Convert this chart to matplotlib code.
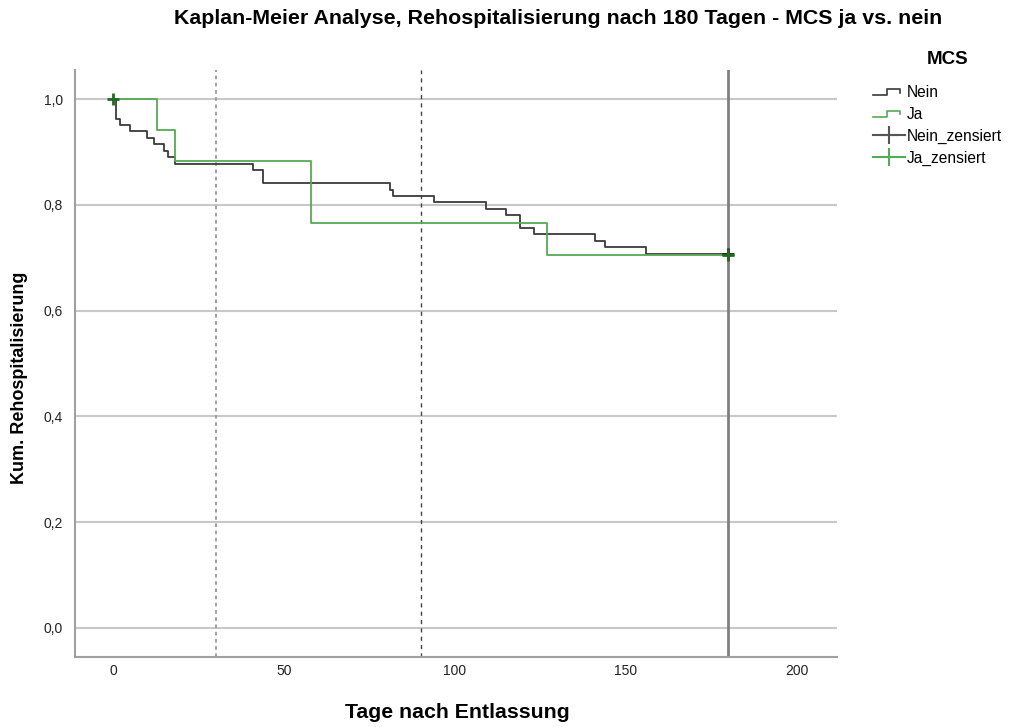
import matplotlib
matplotlib.use('Agg')
import matplotlib.pyplot as plt
from matplotlib import font_manager
from matplotlib.lines import Line2D
from matplotlib.legend_handler import HandlerBase

plt.rcParams['font.family'] = ['Liberation Sans', 'DejaVu Sans']
installed = {f.name for f in font_manager.fontManager.ttflist}
tick_font = 'Liberation Sans Narrow' if 'Liberation Sans Narrow' in installed else 'Liberation Sans'

# Kaplan-Meier step data
nein_t = [0, 1, 2, 5, 10, 12, 15, 16, 18, 41, 44, 81, 82, 94, 109, 115, 119, 123, 141, 144, 156, 180]
nein_s = [1.0, 0.963, 0.951, 0.939, 0.927, 0.915, 0.902, 0.890, 0.878, 0.866, 0.841, 0.829,
          0.817, 0.805, 0.793, 0.780, 0.756, 0.744, 0.732, 0.720, 0.707, 0.707]
ja_t = [0, 13, 18, 58, 127, 180]
ja_s = [1.0, 0.941, 0.882, 0.765, 0.706, 0.706]

nein_cens_t = [180]
nein_cens_s = [0.707]
ja_cens_t = [0, 180]
ja_cens_s = [1.0, 0.706]

ref_days = [30, 90, 180]
xticks = [0, 50, 100, 150, 200]
yticks = [0.0, 0.2, 0.4, 0.6, 0.8, 1.0]

c_nein = '#3a3a3a'
c_ja = '#55aa55'
c_cens = '#1f6b1f'


class HandlerStep(HandlerBase):
    def create_artists(self, legend, orig_handle, xdescent, ydescent, width, height, fontsize, trans):
        x0 = -xdescent
        y0 = -ydescent
        xs = [x0, x0 + 0.45 * width, x0 + 0.45 * width, x0 + 0.85 * width, x0 + 0.85 * width]
        ys = [y0 + 0.2 * height, y0 + 0.2 * height, y0 + 0.7 * height, y0 + 0.7 * height, y0 + 0.4 * height]
        ln = Line2D(xs, ys, color=orig_handle.get_color(), lw=1.2, transform=trans)
        return [ln]


fig = plt.figure(figsize=(10.18, 7.27), dpi=100)
ax = fig.add_axes([0.0737, 0.0963, 0.7483, 0.8074])

for y in yticks:
    ax.axhline(y, color='#c8c8c8', lw=1.5, zorder=0)

ax.axvline(ref_days[0], color='#999999', lw=1.3, linestyle=(0, (2, 2)), zorder=1)
ax.axvline(ref_days[1], color='#444444', lw=1.0, linestyle=(0, (3, 3)), zorder=1)
ax.axvline(ref_days[2], color='#808080', lw=2.0, zorder=1)

ax.step(nein_t, nein_s, where='post', color=c_nein, lw=1.3, zorder=3)
ax.step(ja_t, ja_s, where='post', color=c_ja, lw=1.3, zorder=3)
ax.plot(nein_cens_t, nein_cens_s, linestyle='none', marker='+', color='#222222',
        markersize=9, markeredgewidth=2, zorder=4)
ax.plot(ja_cens_t, ja_cens_s, linestyle='none', marker='+', color=c_cens,
        markersize=9, markeredgewidth=2, zorder=5)

ax.set_xlim(-11.1, 211.7)
ax.set_ylim(-0.055, 1.055)
ax.set_xticks(xticks)
ax.set_yticks(yticks)
ax.set_yticklabels([f'{v:.1f}'.replace('.', ',') for v in yticks])
ax.tick_params(length=0, labelsize=10, colors='#222222')
ax.tick_params(axis='x', pad=5)
ax.tick_params(axis='y', pad=8.5)
for lab in ax.get_xticklabels() + ax.get_yticklabels():
    lab.set_family(tick_font)
for side in ['top', 'right']:
    ax.spines[side].set_visible(False)
for side in ['left', 'bottom']:
    ax.spines[side].set_color('#a0a0a0')
    ax.spines[side].set_linewidth(1.5)

fig.text(457 / 1018, 1 - 713 / 727, 'Tage nach Entlassung', ha='center', va='center',
         fontsize=15.3, fontweight='bold')
fig.text(20 / 1018, 1 - 378 / 727, 'Kum. Rehospitalisierung', ha='center', va='center',
         rotation=90, fontsize=13, fontweight='bold')
fig.text(558 / 1018, 1 - 18 / 727,
         'Kaplan-Meier Analyse, Rehospitalisierung nach 180 Tagen - MCS ja vs. nein',
         ha='center', va='center', fontsize=15.4, fontweight='bold')
fig.text(948 / 1018, 1 - 60 / 727, 'MCS', ha='center', va='center', fontsize=13.5, fontweight='bold')

h_nein = Line2D([], [], color=c_nein)
h_ja = Line2D([], [], color=c_ja)
h_nein_c = Line2D([], [], color='#555555', lw=1.5, marker='+', markersize=13, markeredgewidth=1.5)
h_ja_c = Line2D([], [], color=c_ja, lw=1.5, marker='+', markersize=13, markeredgewidth=1.5)
leg = fig.legend([h_nein, h_ja, h_nein_c, h_ja_c], ['Nein', 'Ja', 'Nein_zensiert', 'Ja_zensiert'],
                 loc='upper left', bbox_to_anchor=(873 / 1018, 1 - 85 / 727), frameon=False,
                 fontsize=11.2, handlelength=2.05, handletextpad=0.1, labelspacing=0.44,
                 numpoints=1, borderaxespad=0, borderpad=0,
                 handler_map={h_nein: HandlerStep(), h_ja: HandlerStep()})

fig.savefig('out.png', dpi=100)
